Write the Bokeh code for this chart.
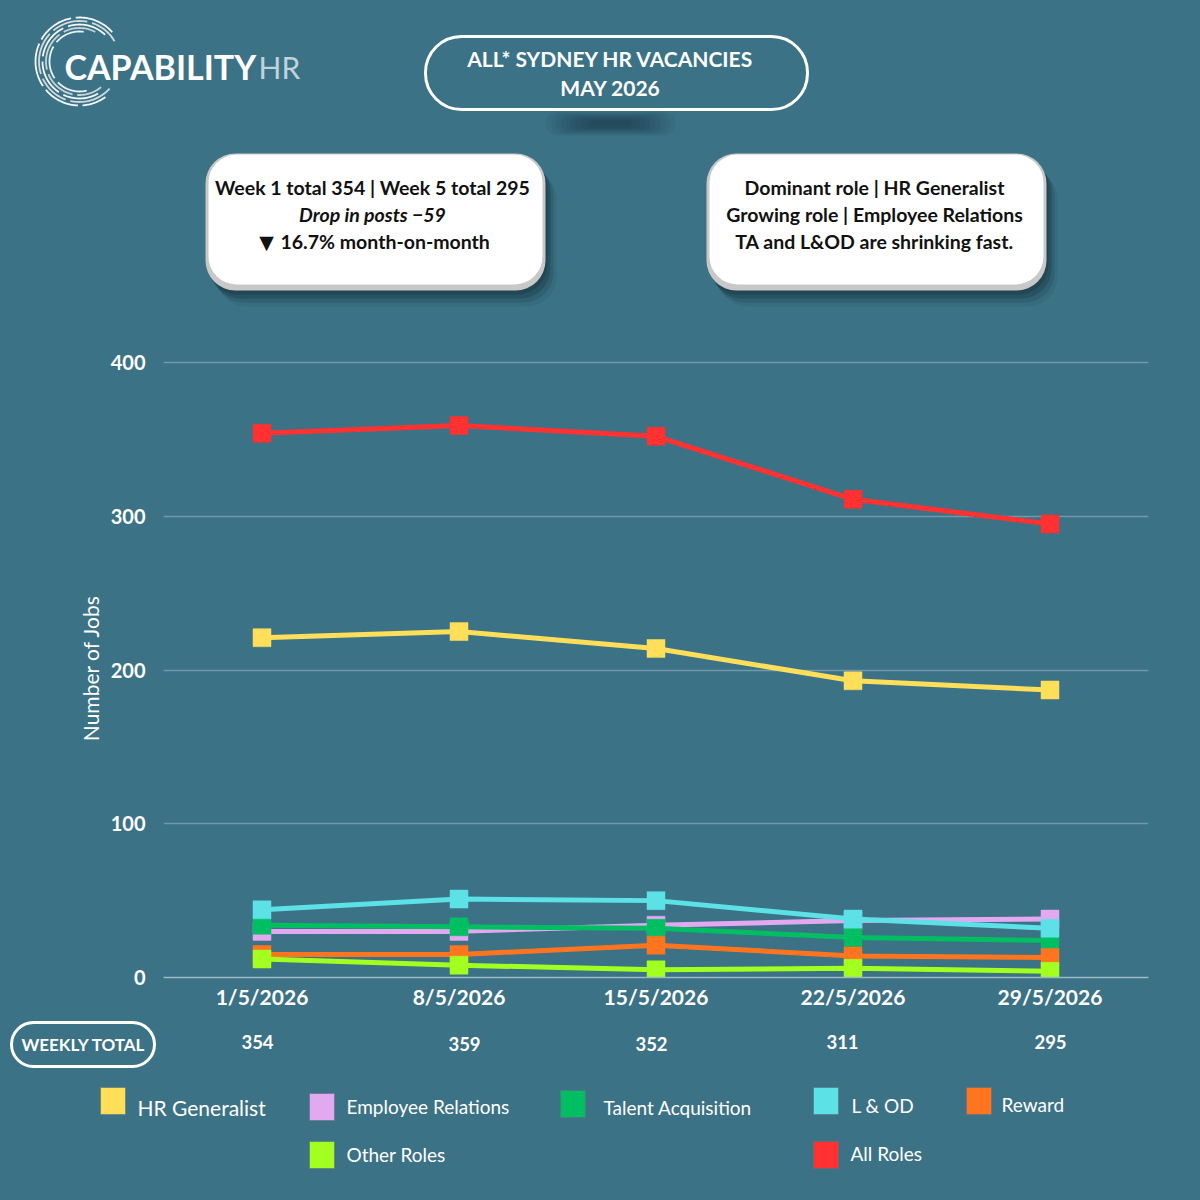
import math
from bokeh.plotting import figure
from bokeh.layouts import column
from bokeh.models import Range1d, FixedTicker, BoxAnnotation, Label, PolyAnnotation
from bokeh.embed import file_html
from bokeh.resources import INLINE

# ---------------- data ----------------
dates = ["1/5/2026", "8/5/2026", "15/5/2026", "22/5/2026", "29/5/2026"]
hr_generalist = [221, 225, 214, 193, 187]
employee_relations = [30, 30, 34, 37, 38]
talent_acquisition = [34, 33, 32, 26, 24]
l_and_od = [44, 51, 50, 38, 32]
reward = [15, 15, 21, 14, 13]
other_roles = [12, 8, 5, 6, 4]
all_roles = [354, 359, 352, 311, 295]
y_ticks = [0, 100, 200, 300, 400]

series_names = ["HR Generalist", "Employee Relations", "Talent Acquisition",
                "L & OD", "Reward", "Other Roles", "All Roles"]
series_values = [hr_generalist, employee_relations, talent_acquisition,
                 l_and_od, reward, other_roles, all_roles]
series_colors = ["#FFDE59", "#E2A9F1", "#00BF63", "#5CE1E6", "#FF751F",
                 "#A2FF1F", "#FF3131"]

# ---------------- layout ----------------
BG = "#3B7286"
FONT = "Lato"
W = 1200
TOP_H = 330
MAIN_TOP, MAIN_BOT = 330, 1015
BOT_TOP, BOT_BOT = 1015, 1200
FL, FR, FT, FB = 163, 1148, 358, 977   # chart frame edges (canvas px)
PX_PER_Y = (977 - 362) / 400.0
Y_END = (FB - FT) / PX_PER_Y
CSS = {"background-color": BG}


def deco_fig(y0, y1):
    f = figure(width=W, height=y1 - y0, x_range=Range1d(0, W), y_range=Range1d(y1, y0),
               x_axis_type=None, y_axis_type=None, output_backend="svg",
               toolbar_location=None, min_border=0, frame_align=False, styles=CSS,
               background_fill_color=BG, border_fill_color=BG, outline_line_color=None)
    f.xgrid.visible = False
    f.ygrid.visible = False
    return f


top = deco_fig(0, TOP_H)
bot = deco_fig(BOT_TOP, BOT_BOT)

# ---------------- main chart ----------------
p = figure(width=W, height=MAIN_BOT - MAIN_TOP,
           x_range=Range1d(-0.5, len(dates) - 0.5), y_range=Range1d(0, Y_END),
           output_backend="svg", toolbar_location=None, frame_align=False, styles=CSS,
           min_border_left=FL, min_border_right=W - FR,
           min_border_top=FT - MAIN_TOP, min_border_bottom=MAIN_BOT - FB,
           background_fill_color=BG, border_fill_color=BG,
           outline_line_color=None)

xs = list(range(len(dates)))

p.xaxis.ticker = FixedTicker(ticks=xs)
p.xaxis.major_label_overrides = {i: d for i, d in enumerate(dates)}
p.xaxis.major_tick_line_color = None
p.xaxis.major_tick_out = 0
p.xaxis.major_tick_in = 0
p.xaxis.minor_tick_line_color = None
p.xaxis.axis_line_color = "#9DB9C4"
p.xaxis.axis_line_width = 1.5
p.xaxis.major_label_standoff = 6
p.xaxis.major_label_text_font = FONT
p.xaxis.major_label_text_font_size = "21px"
p.xaxis.major_label_text_font_style = "bold"
p.xaxis.major_label_text_color = "white"

p.yaxis.ticker = FixedTicker(ticks=y_ticks)
p.yaxis.major_tick_line_color = None
p.yaxis.major_tick_out = 0
p.yaxis.major_tick_in = 0
p.yaxis.minor_tick_line_color = None
p.yaxis.axis_line_color = None
p.yaxis.major_label_standoff = 18
p.yaxis.major_label_text_font = FONT
p.yaxis.major_label_text_font_size = "20px"
p.yaxis.major_label_text_font_style = "bold"
p.yaxis.major_label_text_color = "white"
p.yaxis.axis_label = "Number of Jobs"
p.yaxis.axis_label_text_font = FONT
p.yaxis.axis_label_text_font_size = "21px"
p.yaxis.axis_label_text_font_style = "normal"
p.yaxis.axis_label_text_color = "white"
p.yaxis.axis_label_standoff = 5

p.xgrid.visible = False
p.ygrid.ticker = FixedTicker(ticks=y_ticks)
p.ygrid.grid_line_color = "#7299A8"
p.ygrid.grid_line_width = 1.5

for vals, col in zip(series_values, series_colors):
    p.line(x=xs, y=vals, line_color=col, line_width=5)
    p.scatter(x=xs, y=vals, marker="square", size=18, fill_color=col,
              line_color=col, line_width=0.5)


# ---------------- helpers for decorations (canvas px coordinates) ----------------
def box(f, x0, y0, x1, y1, **kw):
    if "border_radius" in kw:
        kw["border_radius"] = int(round(kw["border_radius"]))
    kw.setdefault("fill_alpha", 1.0)
    kw.setdefault("line_alpha", 1.0)
    f.add_layout(BoxAnnotation(left=x0, right=x1, top=y0, bottom=y1, **kw))


def label(f, X, Y, text, size, color="white", style="normal", align="center", font=FONT):
    f.add_layout(Label(x=X, y=Y, text=text, text_font=font,
                       text_font_size=size, text_font_style=style,
                       text_color=color, text_align=align,
                       text_baseline="middle"))


# ---------------- logo ----------------
cx, cy = 79, 61
rings = [
    (44.0, [(42, 95), (101, 150), (156, 214), (220, 268), (274, 306)], 0.95),
    (40.5, [(30, 72), (79, 130), (137, 198), (205, 250), (257, 318)], 0.75),
    (37.0, [(46, 108), (116, 172), (180, 236), (244, 300)], 0.95),
    (33.5, [(62, 118), (126, 194), (202, 258), (266, 310)], 0.7),
    (30.0, [(82, 140), (150, 214), (224, 284)], 0.9),
]
for r, segs, alpha in rings:
    for a0, a1 in segs:
        n = 24
        angs = [math.radians(a0 + (a1 - a0) * k / n) for k in range(n + 1)]
        outer = [(cx + (r + 0.9) * math.cos(a), cy - (r + 0.9) * math.sin(a)) for a in angs]
        inner = [(cx + (r - 0.9) * math.cos(a), cy - (r - 0.9) * math.sin(a)) for a in reversed(angs)]
        pts = outer + inner
        top.add_layout(PolyAnnotation(xs=[a for a, _ in pts], ys=[b for _, b in pts],
                                      fill_color="white", fill_alpha=alpha,
                                      line_color=None))
label(top, 64, 66, "CAPABILITY", "34px", style="bold", align="left")
label(top, 258, 66, "HR", "30px", color="#BFD3DB", style="normal", align="left")

# ---------------- title ----------------
for k in range(10):
    w = 130 - k * 10
    h = 24 - k * 2
    box(top, 610 - w / 2, 123 - h / 2, 610 + w / 2, 123 + h / 2,
        fill_color="#10242D", fill_alpha=0.06, line_color=None, border_radius=h / 2)
box(top, 425, 36, 807, 109, fill_alpha=0, line_color="white", line_width=3, border_radius=36)
label(top, 610, 58, "ALL* SYDNEY HR VACANCIES", "21px", style="bold")
label(top, 610, 87, "MAY 2026", "21px", style="bold")

# ---------------- note boxes ----------------
for (x0, y0, x1, y1) in [(205, 153, 545, 290), (706, 153, 1046, 290)]:
    for dx, dy, a in [(2, 4, 0.25), (5, 8, 0.22), (8, 12, 0.15), (11, 16, 0.08)]:
        box(top, x0 + dx, y0 + dy, x1 + dx, y1 + dy, fill_color="#0E222B", fill_alpha=a,
            line_color=None, border_radius=30)
    box(top, x0, y0, x1, y1, fill_color="#C8C8C8", line_color=None, border_radius=30)
    box(top, x0 + 3, y0 + 1, x1 - 3, y1 - 6, fill_color="white", line_color=None, border_radius=28)

BOX_FS = "19.5px"
label(top, 372, 187, "Week 1 total 354 | Week 5 total 295", BOX_FS, color="#111111", style="bold")
label(top, 372, 214, "Drop in posts \u221259", BOX_FS, color="#111111", style="bold italic")
label(top, 266, 241, "\u25BC", "19px", color="#111111", font="DejaVu Sans")
label(top, 280, 241, "16.7% month-on-month", BOX_FS, color="#111111", style="bold", align="left")
label(top, 874, 187, "Dominant role | HR Generalist", BOX_FS, color="#111111", style="bold")
label(top, 874, 214, "Growing role | Employee Relations", BOX_FS, color="#111111", style="bold")
label(top, 874, 241, "TA and L&OD are shrinking fast.", BOX_FS, color="#111111", style="bold")

# ---------------- weekly totals ----------------
box(bot, 11, 1022, 154, 1066, fill_alpha=0, line_color="white", line_width=3, border_radius=22)
label(bot, 83, 1044, "WEEKLY TOTAL", "17px", style="bold")
total_X = [257, 464, 651, 842, 1050]
total_Y = [1041, 1043, 1043, 1041, 1041]
for X, Y, v in zip(total_X, total_Y, all_roles):
    label(bot, X, Y, str(v), "18.5px", style="bold")

# ---------------- legend ----------------
legend_pos = [(100, 1087, 137, 1107), (309, 1093, 346, 1106), (560, 1090, 603, 1107),
              (813, 1087, 851, 1105), (966, 1087, 1001, 1104), (309, 1141, 346, 1154),
              (813, 1141, 850, 1153)]
for (sx, sy, tx, ty), name, col in zip(legend_pos, series_names, series_colors):
    box(bot, sx, sy, sx + 25, sy + 27, fill_color=col, fill_alpha=1,
        line_color="#5A7480", line_alpha=0.6, line_width=1)
    label(bot, tx, ty, name, "21px" if name == "HR Generalist" else "19px", align="left")

layout = column(top, p, bot, spacing=0, styles=CSS)
open("out.html", "w").write(file_html(layout, INLINE))
